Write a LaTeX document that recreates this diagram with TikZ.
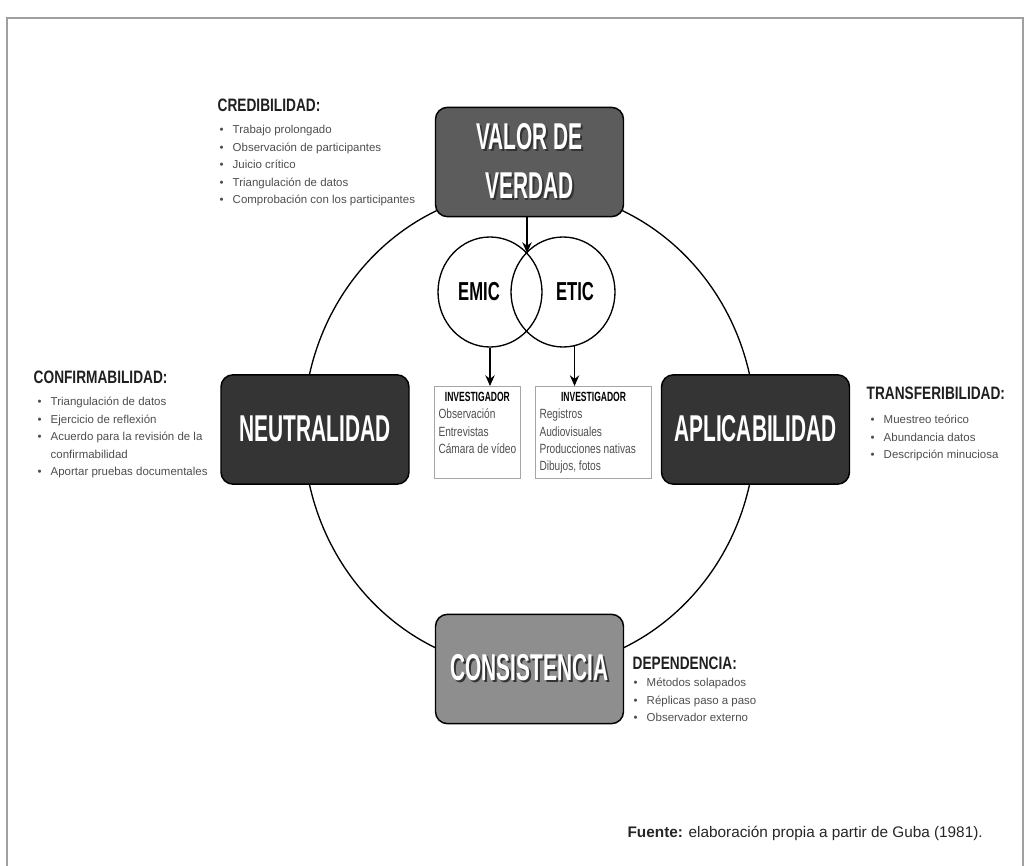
\documentclass[tikz,border=0pt]{standalone}
\usepackage{fontspec}
\setmainfont{Liberation Sans}
\newfontfamily\titlefont[FakeStretch=0.56]{Liberation Sans}
\newfontfamily\vennfont[FakeStretch=0.64]{Liberation Sans}
\newfontfamily\headfont[FakeStretch=0.76]{Liberation Sans}
\usepackage{tikz}
\usetikzlibrary{arrows.meta, shapes.geometric, positioning, calc}

\definecolor{boxgray}{HTML}{5C5C5C}
\definecolor{boxdark}{HTML}{343434}
\definecolor{boxlight}{HTML}{8E8E8E}
\definecolor{txtgray}{HTML}{4E4E4E}

\newcommand{\shd}[1]{\makebox[0pt][l]{\kern1.3pt\raisebox{-1.3pt}{\textcolor{black!80}{#1}}}#1}
\newcommand{\itm}[1]{\makebox[9.75pt][l]{\textbullet}#1}
\newcommand{\invtitle}[1]{\multicolumn{1}{@{}c@{}}{\makebox[#1]{\vennfont\bfseries\color{black}INVESTIGADOR}}}

\begin{document}
\begin{tikzpicture}[x=0.75pt,y=-0.75pt]
\useasboundingbox (0,0) rectangle (1029,866);
% frame and big ring
\draw[gray!75,line width=1.5pt] (7,866) -- (7,18) -- (1023,18) -- (1023,866);
\draw[line width=1pt] (529.5,429.5) ellipse [x radius=226, y radius=240];

\begin{scope}[->,>={Stealth[length=8pt,width=7pt]},line width=1.1pt,
  main node/.style={rectangle,rounded corners=9pt,draw,line width=1.1pt,text=white,minimum width=141pt,minimum height=82pt,align=center,font=\titlefont\bfseries\fontsize{28}{37}\selectfont},
  venn/.style={ellipse,draw,line width=1pt,minimum width=78pt,minimum height=82.5pt,inner sep=0pt},
  venn text/.style={font=\vennfont\bfseries\fontsize{19.5}{22}\selectfont},
  inv/.style={draw=gray!70,line width=0.8pt,anchor=north west,inner xsep=3pt,inner ysep=0pt,minimum height=69pt,text=txtgray,font=\headfont\fontsize{10}{13.1}\selectfont},
  head/.style={anchor=base west,inner sep=0pt,text=black!88,font=\headfont\bfseries\fontsize{13.5}{16}\selectfont},
  lst/.style={anchor=base west,inner sep=0pt,text=txtgray,font=\fontsize{8.6}{13.2}\selectfont}]
\node[main node,fill=boxgray] (1) at (529.5,162) {\shd{VALOR DE}\\\shd{VERDAD}};
\node[main node,fill=boxdark] (2) at (315,429.5) {\shd{NEUTRALIDAD}};
\node[main node,fill=boxdark] (3) at (755.5,429.5) {\shd{APLICABILIDAD}};
\node[main node,fill=boxlight] (4) at (529.5,669) {\shd{CONSISTENCIA}};

\node[venn,label={[venn text,xshift=-8.25pt]center:EMIC}] (5) at (490,292) {};
\node[venn,label={[venn text,xshift=9pt]center:ETIC}] (6) at (563,292) {};
\coordinate (top) at (527,253);

\node[inv] (7) at (434,386) {\begin{tabular}{@{}l@{}}
  \invtitle{57.75pt}\\
  Observación\\ Entrevistas\\ Cámara de vídeo\\ ~\end{tabular}};
\node[inv] (8) at (535,386) {\begin{tabular}{@{}l@{}}
  \invtitle{81pt}\\
  Registros\\ Audiovisuales\\ Producciones nativas\\ Dibujos, fotos\end{tabular}};

\path (1.south -| top) edge (top)
      (5.south) edge (5.south |- 7.north)
      (6.282) edge (6.282 |- 8.north);

% criteria lists
\node[head] (h1) at (217,111.5) {CREDIBILIDAD:};
\node[lst] (l1) at (219,133.5) {\begin{tabular}[t]{@{}l@{}}
  \itm{Trabajo prolongado}\\ \itm{Observación de participantes}\\ \itm{Juicio crítico}\\
  \itm{Triangulación de datos}\\ \itm{Comprobación con los participantes}\end{tabular}};

\node[head] (h2) at (33,383.5) {CONFIRMABILIDAD:};
\node[lst] (l2) at (37,405.5) {\begin{tabular}[t]{@{}l@{}}
  \itm{Triangulación de datos}\\ \itm{Ejercicio de reflexión}\\ \itm{Acuerdo para la revisión de la}\\
  \hspace*{9.75pt}confirmabilidad\\ \itm{Aportar pruebas documentales}\end{tabular}};

\node[head] (h3) at (866,399.5) {TRANSFERIBILIDAD:};
\node[lst] (l3) at (870,423.5) {\begin{tabular}[t]{@{}l@{}}
  \itm{Muestreo teórico}\\ \itm{Abundancia datos}\\ \itm{Descripción minuciosa}\end{tabular}};

\node[head] (h4) at (632,669.5) {DEPENDENCIA:};
\node[lst] (l4) at (633,686.5) {\begin{tabular}[t]{@{}l@{}}
  \itm{Métodos solapados}\\ \itm{Réplicas paso a paso}\\ \itm{Observador externo}\end{tabular}};
\end{scope}

\node[anchor=base east,inner sep=0pt,text=black!85,font=\fontsize{11.5}{13}\selectfont] (src) at (983,837)
  {\textbf{Fuente:} elaboración propia a partir de Guba (1981).};
\end{tikzpicture}
\end{document}
